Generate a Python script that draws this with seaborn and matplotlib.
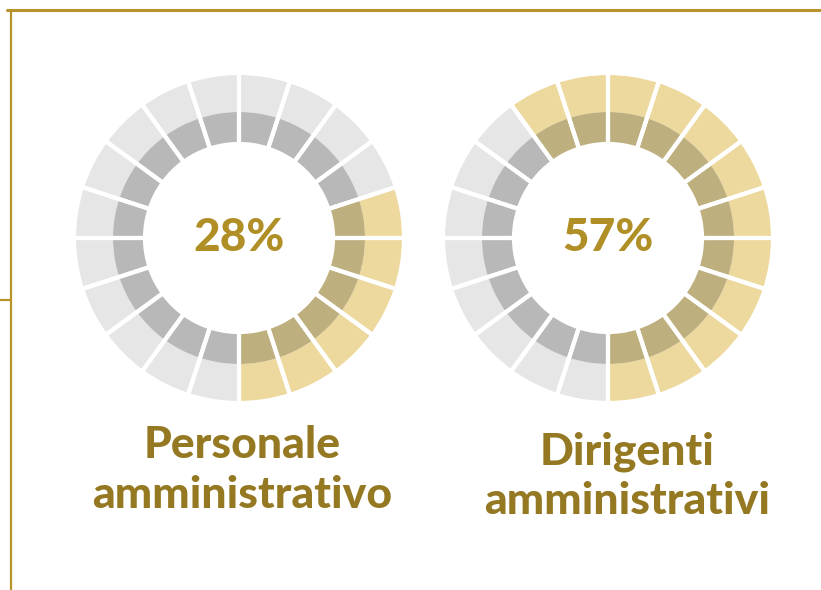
import matplotlib.pyplot as plt
import numpy as np
import seaborn as sns
from matplotlib.lines import Line2D

sns.set_theme(style="white")
plt.rcParams['font.family'] = ['Lato', 'DejaVu Sans']

# data
groups = ['Personale\namministrativo', 'Dirigenti\namministrativi']
percentages = [28, 57]
filled_segments = [6, 12]   # highlighted blocks out of 20
n_segments = 20

# colours
outer_on, inner_on = '#EDD99E', '#BEAF7E'
outer_off, inner_off = '#E6E6E6', '#B8B8B8'
pct_color = '#B08F26'
label_color = '#957822'
frame_color = '#B8922A'

W, H = 821, 590
fig = plt.figure(figsize=(W / 100, H / 100), dpi=100)

centers = [(239, 238), (608, 238)]
R = 165
r_mid = 126 / R
r_in = 94 / R


def draw_donut(ax, filled, pct):
    """
    draws one segmented two-ring donut
    """
    segs = np.ones(n_segments)
    on = np.arange(n_segments) < filled
    outer_cols = [outer_on if o else outer_off for o in on]
    inner_cols = [inner_on if o else inner_off for o in on]

    kw = dict(startangle=270, counterclock=True)
    ax.pie(segs, radius=1.0, colors=outer_cols,
           wedgeprops=dict(width=1.0 - r_mid, edgecolor='none', linewidth=0), **kw)
    ax.pie(segs, radius=r_mid, colors=inner_cols,
           wedgeprops=dict(width=r_mid - r_in, edgecolor='none', linewidth=0), **kw)
    # white separators
    ax.pie(segs, radius=1.0, colors=['none'] * n_segments,
           wedgeprops=dict(width=1.0 - r_in, facecolor='none',
                           edgecolor='white', linewidth=3.0), **kw)

    ax.text(0, 0, f'{pct}%', ha='center', va='center', fontsize=33,
            fontweight='black', color=pct_color)
    ax.set_xlim(-1, 1)
    ax.set_ylim(-1, 1)
    ax.set_aspect('equal')
    ax.axis('off')


for (cx, cy), filled, pct in zip(centers, filled_segments, percentages):
    ax = fig.add_axes([(cx - R) / W, (H - cy - R) / H, 2 * R / W, 2 * R / H])
    draw_donut(ax, filled, pct)

# group labels
label_pos = [(242, 470), (627, 476)]
for (lx, ly), text in zip(label_pos, groups):
    fig.text(lx / W, 1 - ly / H, text, ha='center', va='center',
             fontsize=32, fontweight='black', color=label_color,
             linespacing=1.28)

# frame lines
fig.add_artist(Line2D([7 / W, 1], [1 - 10 / H, 1 - 10 / H],
                      color=frame_color, linewidth=2.2))
fig.add_artist(Line2D([11 / W, 11 / W], [0, 1 - 10 / H],
                      color=frame_color, linewidth=1.6))
fig.add_artist(Line2D([0, 11 / W], [1 - 300 / H, 1 - 300 / H],
                      color=frame_color, linewidth=1.6))

fig.savefig('out.png', dpi=100, facecolor='white')
